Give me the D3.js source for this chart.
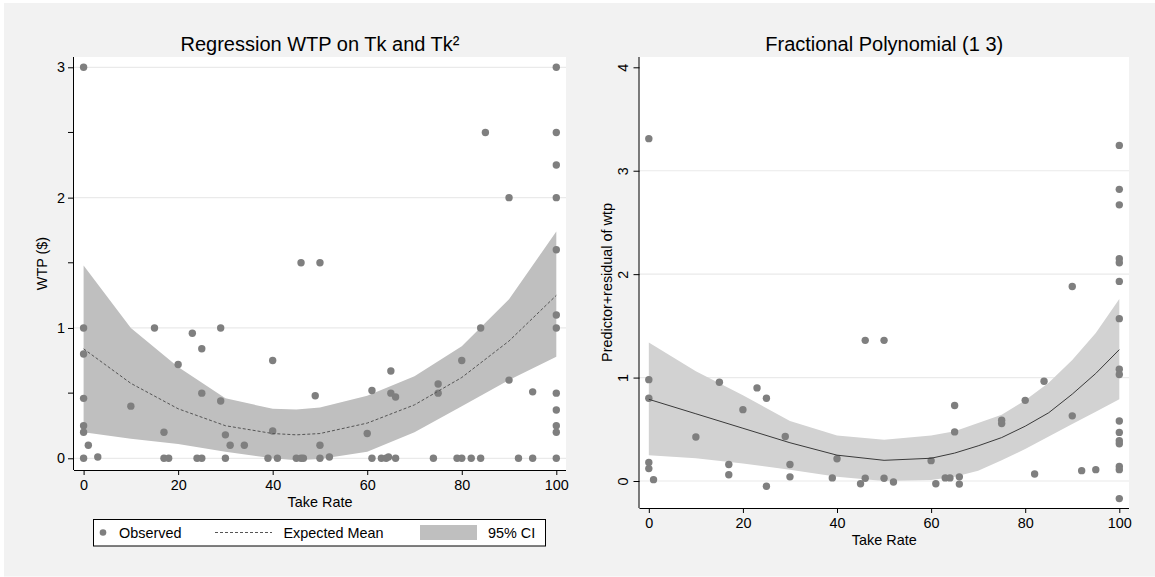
<!DOCTYPE html>
<html>
<head>
<meta charset="utf-8">
<script src="https://cdn.jsdelivr.net/npm/d3@7"></script>
<style>
  body { margin: 0; background: #fff; }
  text { font-family: "Liberation Sans", Arial, Helvetica, sans-serif; fill: #000; }
</style>
</head>
<body>
<svg id="chart" width="1155" height="577"></svg>
<script>
// observed wtp by take rate (left panel)
var wtpObserved = [
  [0,3],[0,1],[0,0.8],[0,0.46],[0,0.25],[0,0.2],[0,0],[1,0.1],[3,0.01],[10,0.4],
  [15,1],[17,0.2],[17,0],[18,0],[20,0.72],[23,0.96],[24,0],[25,0],[25,0.84],[25,0.5],
  [29,1],[29,0.44],[30,0.18],[30,0],[31,0.1],[34,0.1],[39,0],[40,0.75],[40,0.21],[41,0],
  [45,0],[46,0],[46.5,0],[46,1.5],[49,0.48],[50,1.5],[50,0.1],[50,0],[52,0.01],[60,0.19],
  [61,0.52],[61,0],[63,0],[64,0],[64.5,0.01],[65,0.67],[65,0.5],[66,0.47],[66,0],[74,0],
  [75,0.57],[75,0.5],[79,0],[80,0],[80,0.75],[82,0],[84,1],[84,0],[85,2.5],[90,2],
  [90,0.6],[92,0],[95,0.51],[95,0],[100,3],[100,2.5],[100,2.25],[100,2],[100,1.6],[100,1.1],
  [100,1],[100,0.5],[100,0.37],[100,0.25],[100,0.2],[100,0]
];

// quadratic fit, expected mean and 95% CI
var quadTake = [0,10,20,30,40,45,50,60,70,80,90,100];
var quadMean = [0.84,0.575,0.38,0.25,0.19,0.18,0.19,0.27,0.41,0.62,0.9,1.25];
var quadLow  = [0.2,0.15,0.11,0.05,0.0,-0.015,-0.005,0.05,0.2,0.4,0.6,0.78];
var quadHigh = [1.48,1.0,0.7,0.46,0.38,0.375,0.39,0.48,0.63,0.86,1.22,1.74];

// predictor+residual (right panel)
var fpResidual = [
  [0,3.31],[0,0.98],[0,0.8],[0,0.18],[0,0.12],[1,0.013],[10,0.425],[15,0.955],[17,0.16],[17,0.06],
  [20,0.69],[23,0.9],[25,0.8],[25,-0.05],[29,0.43],[30,0.16],[30,0.04],[39,0.03],[40,0.215],[45,-0.026],
  [46,1.36],[46,0.026],[50,1.36],[50,0.026],[52,-0.01],[60,0.197],[61,-0.026],[63,0.03],[64,0.03],[65,0.73],
  [65,0.475],[66,0.04],[66,-0.03],[75,0.587],[75,0.555],[80,0.78],[82,0.068],[84,0.965],[90,1.88],[90,0.63],
  [92,0.1],[95,0.11],[100,3.245],[100,2.82],[100,2.67],[100,2.15],[100,2.11],[100,1.93],[100,1.57],[100,1.08],
  [100,1.03],[100,0.58],[100,0.47],[100,0.39],[100,0.36],[100,0.14],[100,0.11],[100,-0.17]
];

// fractional polynomial fit and CI
var fpTake = [0,10,20,30,40,50,60,65,70,75,80,85,90,95,100];
var fpFit  = [0.79,0.65,0.51,0.37,0.25,0.2,0.22,0.27,0.34,0.42,0.53,0.66,0.84,1.04,1.27];
var fpLow  = [0.25,0.22,0.17,0.11,0.04,0.0,0.01,0.04,0.1,0.2,0.31,0.43,0.55,0.67,0.79];
var fpHigh = [1.34,1.06,0.83,0.58,0.44,0.4,0.44,0.48,0.56,0.64,0.78,0.95,1.17,1.43,1.76];

var xTicks = [0,20,40,60,80,100];
var leftYTicks = [0,1,2,3];
var leftYMinor = [0.5,1.5,2.5];
var rightYTicks = [0,1,2,3,4];

var svg = d3.select("#chart");

svg.append("rect")
  .attr("x", 4).attr("y", 3)
  .attr("width", 1151).attr("height", 573.5)
  .attr("fill", "#f2f2f2");

function drawPanel(opt) {
  var x = d3.scaleLinear().domain(opt.xDomain).range([opt.left, opt.right]);
  var y = d3.scaleLinear().domain(opt.yDomain).range([opt.bottom, opt.top]);
  var g = svg.append("g");

  g.append("rect")
    .attr("x", opt.left).attr("y", opt.top)
    .attr("width", opt.right - opt.left).attr("height", opt.bottom - opt.top)
    .attr("fill", "#fff");

  // grid
  g.selectAll(".grid")
    .data(opt.grid)
    .enter().append("line")
    .attr("x1", opt.left).attr("x2", opt.right)
    .attr("y1", function(d) { return y(d); })
    .attr("y2", function(d) { return y(d); })
    .attr("stroke", "#eaeaea")
    .attr("stroke-width", 1.2);

  // CI band
  var band = d3.area()
    .x(function(d, i) { return x(opt.fitX[i]); })
    .y0(function(d, i) { return y(opt.low[i]); })
    .y1(function(d, i) { return y(opt.high[i]); });
  g.append("path")
    .attr("d", band(opt.fitX))
    .attr("fill", opt.bandColor);

  // observations
  g.selectAll(".pt")
    .data(opt.points)
    .enter().append("circle")
    .attr("cx", function(d) { return x(d[0]); })
    .attr("cy", function(d) { return y(d[1]); })
    .attr("r", 3.7)
    .attr("fill", "#7f7f7f");

  // fitted line
  var line = d3.line()
    .x(function(d, i) { return x(opt.fitX[i]); })
    .y(function(d) { return y(d); });
  g.append("path")
    .attr("d", line(opt.fit))
    .attr("fill", "none")
    .attr("stroke", opt.lineColor)
    .attr("stroke-width", 1)
    .attr("stroke-dasharray", opt.dash);

  // x axis
  var xAxis = g.append("g")
    .attr("transform", "translate(0," + opt.bottom + ")")
    .call(d3.axisBottom(x).tickValues(xTicks).tickSize(5).tickPadding(5).tickFormat(d3.format("d")));
  xAxis.select(".domain").attr("d", "M" + opt.left + ",0.5H" + opt.right).attr("stroke", "#000");
  xAxis.selectAll("text").style("font-size", "14.4px").attr("fill", "#000")
    .attr("font-family", null);

  // y axis
  var yAxis = g.append("g")
    .attr("transform", "translate(" + opt.left + ",0)")
    .call(d3.axisLeft(y).tickValues(opt.yTicks).tickSize(6).tickPadding(opt.rotateY ? 6 : 3).tickFormat(d3.format("d")));
  yAxis.select(".domain").attr("d", "M-0.5," + opt.top + "V" + opt.bottom).attr("stroke", "#000");
  yAxis.selectAll("text").style("font-size", "14.4px").attr("font-family", null);
  if(opt.rotateY) {
    yAxis.selectAll(".tick text")
      .attr("x", null).attr("dy", null)
      .attr("text-anchor", "middle")
      .attr("transform", "translate(-12,0) rotate(-90)");
  }
  if(opt.minor) {
    yAxis.selectAll(".minor")
      .data(opt.minor)
      .enter().append("line")
      .attr("x1", -6).attr("x2", 0)
      .attr("y1", function(d) { return y(d); })
      .attr("y2", function(d) { return y(d); })
      .attr("stroke", "#000");
  }

  var mid = (opt.left + opt.right) / 2;
  g.append("text")
    .attr("x", mid).attr("y", 51)
    .attr("text-anchor", "middle")
    .style("font-size", "20px")
    .text(opt.title);

  g.append("text")
    .attr("x", mid).attr("y", opt.bottom + 36.5)
    .attr("text-anchor", "middle")
    .style("font-size", "14.4px")
    .text("Take Rate");

  g.append("text")
    .attr("transform", "translate(" + opt.yTitleX + "," + ((opt.top + opt.bottom) / 2) + ") rotate(-90)")
    .attr("text-anchor", "middle")
    .style("font-size", "14.4px")
    .text(opt.yTitle);
}

drawPanel({
  left: 74, right: 566, top: 57, bottom: 470,
  xDomain: [-2.03, 102.05], yDomain: [-0.0898, 3.079],
  points: wtpObserved, fitX: quadTake, fit: quadMean, low: quadLow, high: quadHigh,
  bandColor: "#bfbfbf", lineColor: "#555", dash: "3,2",
  grid: leftYTicks, yTicks: leftYTicks, minor: leftYMinor,
  title: "Regression WTP on Tk and Tk\u00b2", yTitle: "WTP ($)", yTitleX: 47
});

drawPanel({
  left: 639.5, right: 1129, top: 57, bottom: 508,
  xDomain: [-1.98, 102.06], yDomain: [-0.261, 4.0996],
  points: fpResidual, fitX: fpTake, fit: fpFit, low: fpLow, high: fpHigh,
  bandColor: "#d2d2d2", lineColor: "#3a3a3a", dash: null,
  grid: [0,1,2,3], yTicks: rightYTicks, rotateY: true,
  title: "Fractional Polynomial (1 3)", yTitle: "Predictor+residual of wtp", yTitleX: 612
});

// legend for left panel
var legend = svg.append("g");
legend.append("rect")
  .attr("x", 93.5).attr("y", 519.5)
  .attr("width", 452).attr("height", 26.5)
  .attr("fill", "#fff").attr("stroke", "#000");
legend.append("circle")
  .attr("cx", 103).attr("cy", 532.5).attr("r", 3.3)
  .attr("fill", "#7f7f7f");
legend.append("text").attr("x", 119).attr("y", 538).style("font-size", "14.4px").text("Observed");
legend.append("line")
  .attr("x1", 215).attr("x2", 272).attr("y1", 532.5).attr("y2", 532.5)
  .attr("stroke", "#555").attr("stroke-dasharray", "3,2");
legend.append("text").attr("x", 283.5).attr("y", 538).style("font-size", "14.4px").text("Expected Mean");
legend.append("rect")
  .attr("x", 420).attr("y", 525).attr("width", 57).attr("height", 15)
  .attr("fill", "#bfbfbf");
legend.append("text").attr("x", 488).attr("y", 538).style("font-size", "14.4px").text("95% CI");
</script>
</body>
</html>
